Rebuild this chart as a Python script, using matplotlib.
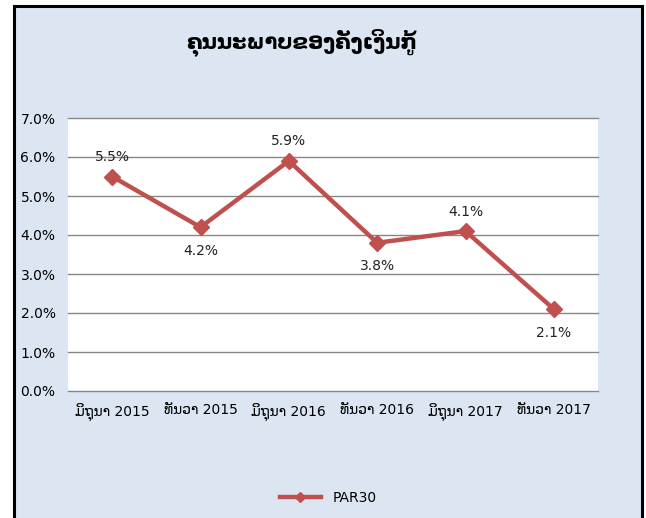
import matplotlib.pyplot as plt
from matplotlib.patches import Rectangle

# chart data
categories = ["ມິຖຸນາ 2015", "ທັນວາ 2015", "ມິຖຸນາ 2016", "ທັນວາ 2016", "ມິຖຸນາ 2017", "ທັນວາ 2017"]
par30 = [5.5, 4.2, 5.9, 3.8, 4.1, 2.1]
label_above = [True, False, True, False, True, False]
y_ticks = [0, 1, 2, 3, 4, 5, 6, 7]
title = "ຄຸນນະພາບຂອງຄັງເງິນກູ້"
series_name = "PAR30"

plt.rcParams['font.family'] = ['DejaVu Sans']

fig = plt.figure(figsize=(6.46, 5.18), dpi=100)
fig.patch.set_facecolor('white')

W, H = 646, 518
# chart background with black frame
fig.patches.append(Rectangle((14 / W, -0.05), (642 - 14) / W, (H - 6) / H + 0.05,
                             transform=fig.transFigure, facecolor='#DCE6F2',
                             edgecolor='black', linewidth=2.2, zorder=-1))

ax = fig.add_axes([68 / W, (H - 391) / H, 530 / W, 273 / H])
ax.set_zorder(2)
ax.set_facecolor('white')
x = list(range(len(categories)))
line, = ax.plot(x, par30, color='#C0504D', linewidth=3.2, marker='D', markersize=8,
                label=series_name, zorder=3, clip_on=False)

for xi, v, up in zip(x, par30, label_above):
    ax.annotate(f"{v:.1f}%", (xi, v), xytext=(0, 9 if up else -12),
                textcoords='offset points', ha='center',
                va='bottom' if up else 'top', fontsize=10, color='#222222')

ax.set_xlim(-0.5, len(categories) - 0.5)
ax.set_ylim(0, 7)
ax.set_yticks(y_ticks)
ax.set_yticklabels([f"{t:.1f}%" for t in y_ticks], fontsize=10)
ax.set_xticks(x)
ax.set_xticklabels(categories, fontsize=10)
ax.tick_params(length=0, pad=9)
ax.tick_params(axis='x', pad=9)
ax.grid(axis='y', color='#868686', linewidth=1, clip_on=False)
ax.set_axisbelow(True)
for s in ax.spines.values():
    s.set_visible(False)

fig.text(302 / W, 1 - 43 / H, title, ha='center', va='center', fontsize=15,
         fontweight='bold', zorder=3)

leg = fig.legend(handles=[line], loc='center', bbox_to_anchor=(328 / W, 1 - 498 / H),
                 frameon=False, fontsize=10, handlelength=3, markerscale=0.6)
leg.set_zorder(3)

fig.savefig('out.png', dpi=100, facecolor=fig.get_facecolor())
